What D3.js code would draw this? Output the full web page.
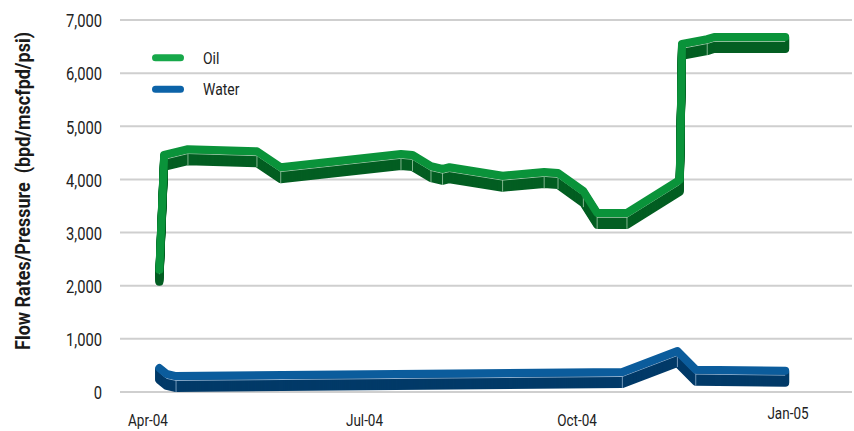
<!DOCTYPE html>
<html>
<head>
<meta charset="utf-8">
<script src="https://cdn.jsdelivr.net/npm/d3@7"></script>
<style>
  html, body { margin: 0; padding: 0; background: #fff; }
  svg { display: block; font-family: Roboto, "Liberation Sans", sans-serif; }
</style>
</head>
<body>
<svg id="chart" width="854" height="431"></svg>
<script>
// ---- data ----
const oilDates = ["2004-04-06","2004-04-08","2004-04-18","2004-05-17","2004-05-27","2004-07-17","2004-07-22","2004-07-30","2004-08-04","2004-08-07","2004-08-30","2004-09-17","2004-09-23","2004-10-04","2004-10-10","2004-10-23","2004-11-15","2004-11-16","2004-11-27","2004-11-30","2004-12-31"];
const oilValues = [2300,4460,4570,4530,4230,4480,4460,4250,4200,4230,4070,4140,4120,3780,3370,3370,3990,6550,6640,6680,6680];
const waterDates = ["2004-04-06","2004-04-09","2004-04-13","2004-10-21","2004-11-14","2004-11-22","2004-12-31"];
const waterValues = [450,340,300,375,770,420,400];
const xTickDates = ["2004-04-01","2004-07-01","2004-10-01","2005-01-01"];
const xTickLabels = ["Apr-04","Jul-04","Oct-04","Jan-05"];
const yTickValues = [0,1000,2000,3000,4000,5000,6000,7000];
const seriesNames = ["Oil","Water"];
const yTitle = "Flow Rates/Pressure\u00a0\u00a0(bpd/mscfpd/psi)";

const parse = d3.timeParse("%Y-%m-%d");
const svg = d3.select("#chart");

const x = d3.scaleTime()
  .domain(xTickDates.map(parse))
  .range([147.5, 364, 576.5, 787.5]);
const y = d3.scaleLinear().domain([0, 7000]).range([392, 20]);

const SX = 0.82; // condensed text

// gridlines
svg.append("g").selectAll("line").data(yTickValues).join("line")
  .attr("x1", 120).attr("x2", 852)
  .attr("y1", d => y(d)).attr("y2", d => y(d))
  .attr("stroke", "#cfcfcf").attr("stroke-width", 2);

// y axis labels
const yAxis = svg.append("g").attr("transform", "translate(120,0)")
  .call(d3.axisLeft(y).tickValues(yTickValues).tickFormat(d3.format(",")).tickSize(0).tickPadding(18));
yAxis.select(".domain").remove();
yAxis.selectAll("text")
  .attr("x", 0)
  .attr("transform", `translate(-18,1) scale(${SX},1)`)
  .attr("font-size", 18).attr("fill", "#222")
  .attr("font-family", "Roboto, sans-serif");

// x axis labels
const xAxis = svg.append("g").attr("transform", "translate(0,392)")
  .call(d3.axisBottom(x).tickValues(xTickDates.map(parse)).tickFormat((d, i) => xTickLabels[i]).tickSize(0).tickPadding(0));
xAxis.select(".domain").remove();
xAxis.selectAll("text")
  .attr("y", 0).attr("dy", null)
  .attr("transform", (d, i) => `translate(0,${i === xTickLabels.length - 1 ? 27 : 34}) scale(${SX},1)`)
  .attr("font-size", 16.5).attr("fill", "#222")
  .attr("font-family", "Roboto, sans-serif");

// y title (condensed to fit its span)
const title = svg.append("text")
  .attr("text-anchor", "middle")
  .attr("font-size", 20).attr("font-weight", "bold").attr("fill", "#1a1a1a")
  .style("white-space", "pre")
  .text(yTitle);
const tl = title.node().getComputedTextLength() || 400;
const tsx = Math.min(1, 318 / tl);
title.attr("transform", `translate(29.5,191) rotate(-90) scale(${tsx},1)`);

// ribbons
const line = d3.line().x(d => x(d.date)).y(d => y(d.value));
function ribbon(dates, values, top, side, edge) {
  const pts = dates.map((d, i) => ({ date: parse(d), value: values[i] }));
  const g = svg.append("g");
  const dpath = line(pts);
  const depth = 12;
  for (let k = depth; k >= 1; k--) {
    g.append("path").attr("d", dpath).attr("transform", `translate(0,${k})`)
      .attr("fill", "none").attr("stroke", side).attr("stroke-width", 8)
      .attr("stroke-linejoin", "round").attr("stroke-linecap", "round");
  }
  // vertical edges at vertices
  pts.forEach((p, i) => {
    if (i === 0 || i === pts.length - 1) return;
    const dxPrev = x(p.date) - x(pts[i - 1].date);
    const dxNext = x(pts[i + 1].date) - x(p.date);
    if (dxPrev < 9 || dxNext < 5) return;
    g.append("line")
      .attr("x1", x(p.date)).attr("x2", x(p.date))
      .attr("y1", y(p.value) + 4).attr("y2", y(p.value) + 4 + depth)
      .attr("stroke", edge).attr("stroke-width", 0.8);
  });
  // front-face top edge
  g.append("path").attr("d", dpath).attr("transform", "translate(0,4.4)")
    .attr("fill", "none").attr("stroke", edge).attr("stroke-width", 1)
    .attr("stroke-linejoin", "round");
  // top face
  g.append("path").attr("d", dpath)
    .attr("fill", "none").attr("stroke", top).attr("stroke-width", 8)
    .attr("stroke-linejoin", "round").attr("stroke-linecap", "round");
}
ribbon(waterDates, waterValues, "#0b5c9c", "#023a68", "#8fb0cf");
ribbon(oilDates, oilValues, "#0a933a", "#035e22", "#9fcaa9");

// legend
const legendColors = ["#17a84a", "#0c63a8"];
const lg = svg.append("g");
seriesNames.forEach((name, i) => {
  const yy = 57.7 + i * 31.6;
  lg.append("line").attr("x1", 155.5).attr("x2", 180.5).attr("y1", yy).attr("y2", yy)
    .attr("stroke", legendColors[i]).attr("stroke-width", 7).attr("stroke-linecap", "round");
  lg.append("text")
    .attr("transform", `translate(203,${yy}) scale(${SX},1)`)
    .attr("dy", "0.35em").attr("font-size", 17).attr("fill", "#222")
    .text(name);
});
</script>
</body>
</html>
